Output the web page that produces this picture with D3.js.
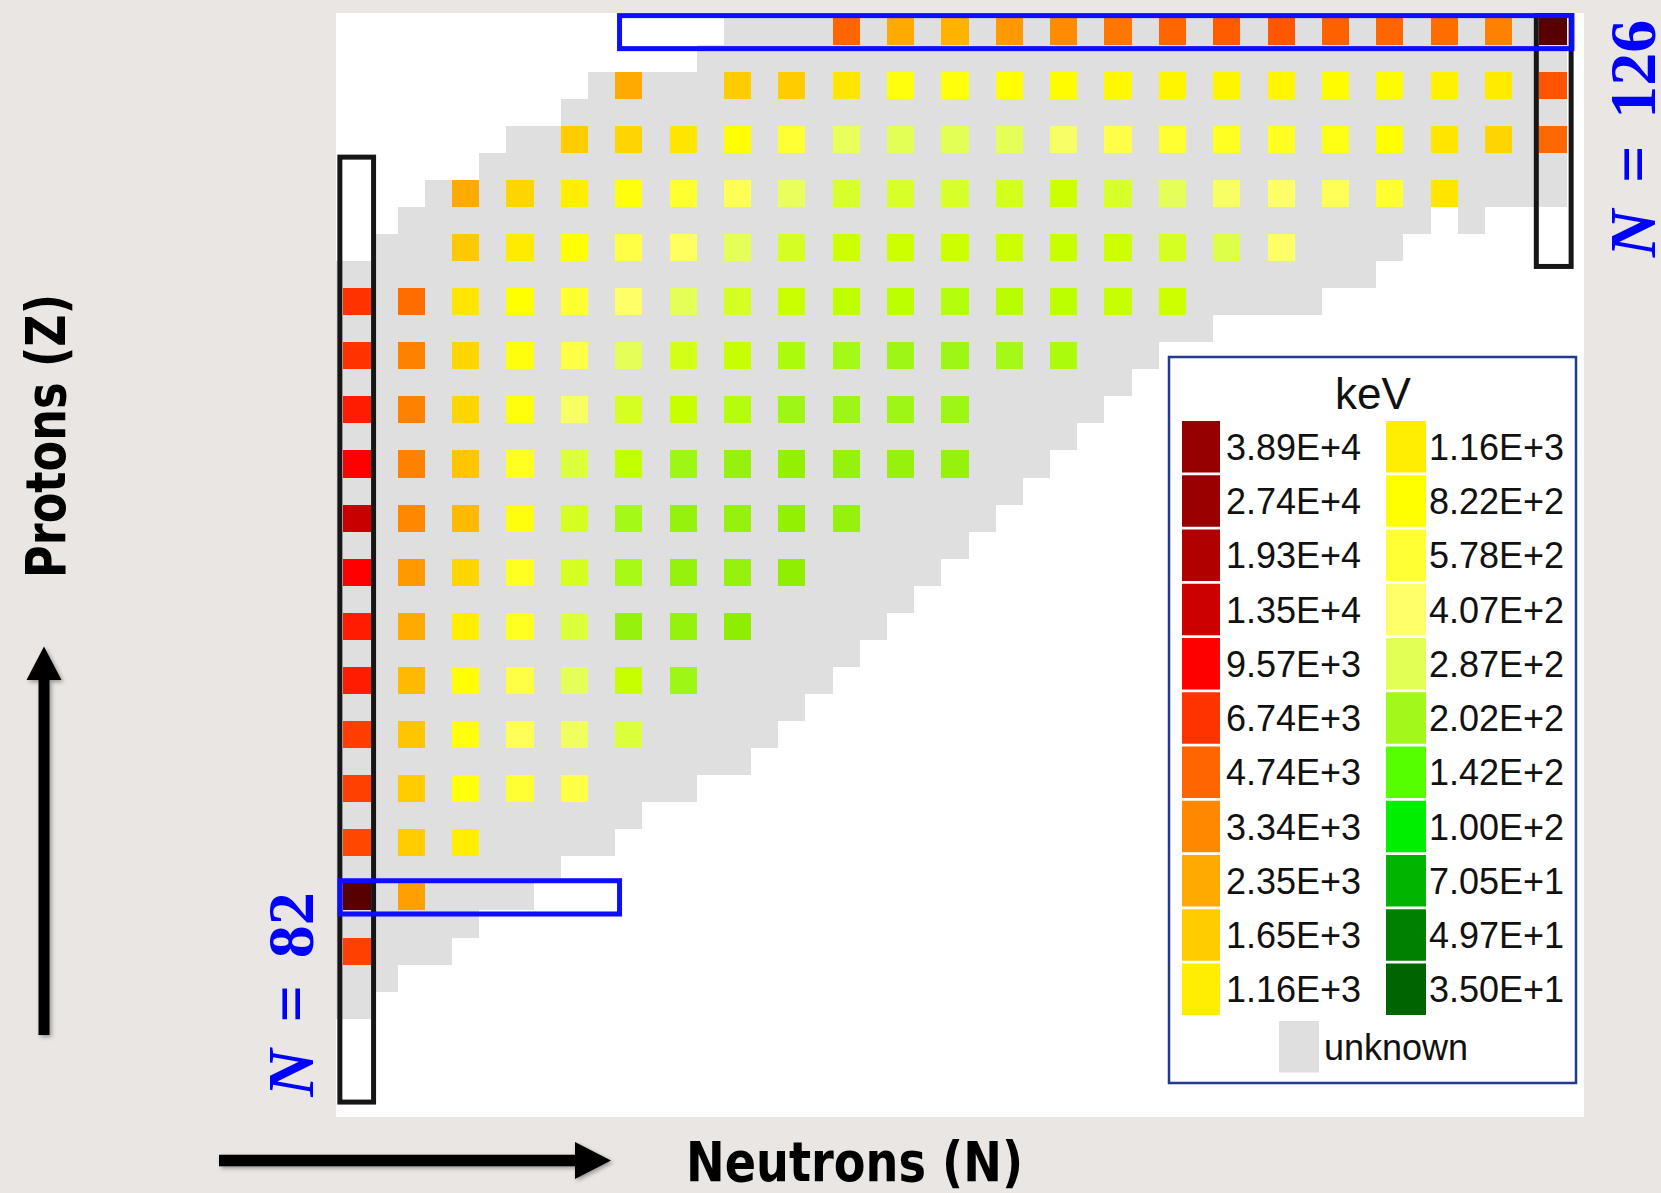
<!DOCTYPE html>
<html>
<head>
<meta charset="utf-8">
<script src="https://cdn.jsdelivr.net/npm/d3@7"></script>
<style>
  html, body { margin: 0; padding: 0; background: #e9e6e3; }
  svg { display: block; }
</style>
</head>
<body>
<svg id="chart" width="1661" height="1193"></svg>
<script>
// even-even columns / rows of the chart
const evenN = [82, 84, 86, 88, 90, 92, 94, 96, 98, 100, 102, 104, 106, 108, 110, 112, 114, 116, 118, 120, 122, 124, 126];
const evenZ = [82, 80, 78, 76, 74, 72, 70, 68, 66, 64, 62, 60, 58, 56, 54, 52, 50, 48];

// keV per even-even nucleus, one row per evenZ, starting at N = 82 (null = no value)
const energyKeV = [
  [null, null, null, null, null, null, null, null, null, 4740, 2350, 2150, 2800, 3200, 4000, 4740, 5100, 5300, 4950, 4740, 4450, 3600, 70000],
  [null, null, null, null, null, 2350, null, 1650, 1650, 1260, 730, 730, 822, 900, 950, 1000, 1000, 980, 900, 900, 1100, 1200, 5400],
  [null, null, null, null, 1650, 1500, 1260, 822, 578, 320, 290, 290, 300, 370, 500, 578, 640, 640, 720, 822, 1260, 1500, 4700],
  [null, null, 2350, 1500, 1160, 730, 578, 465, 320, 268, 268, 268, 262, 250, 268, 300, 370, 415, 460, 578, 1260],
  [null, null, 1700, 1200, 800, 520, 430, 300, 265, 250, 250, 250, 250, 243, 250, 265, 280, 415],
  [6740, 4400, 1260, 822, 578, 415, 300, 265, 245, 230, 225, 218, 222, 225, 243, 250],
  [6900, 3600, 1500, 730, 520, 300, 260, 243, 210, 205, 195, 195, 205, 210],
  [8000, 3600, 1500, 730, 370, 265, 243, 218, 195, 195, 195, 195],
  [9500, 3600, 1750, 650, 275, 235, 195, 185, 180, 185, 185, 185],
  [14000, 3340, 2000, 730, 265, 205, 185, 185, 180, 185],
  [9500, 2800, 1500, 650, 265, 207, 185, 185, 178],
  [8000, 2350, 1160, 650, 275, 185, 185, 175],
  [8000, 2000, 822, 520, 300, 243, 195],
  [6300, 1750, 730, 465, 340, 275],
  [6100, 1650, 730, 578, 520],
  [5900, 1650, 1160],
  [70000, 2600],
  [6100]
];

// known nuclides (grey): lightest and heaviest N per Z
const knownZ    = [82, 81, 80, 79, 78, 77, 76, 75, 74, 73, 72, 71, 70, 69, 68, 67, 66, 65, 64, 63, 62, 61, 60, 59, 58, 57, 56, 55, 54, 53, 52, 51, 50, 49, 48, 47, 46];
const knownNmin = [96, 95, 91, 90, 88, 87, 85, 84, 83, 81, 81, 81, 81, 81, 81, 81, 81, 81, 81, 81, 81, 81, 81, 81, 81, 81, 81, 81, 81, 81, 81, 81, 81, 81, 81, 81, 81];
const knownNmax = [126, 126, 126, 126, 126, 126, 126, 121, 120, 119, 117, 113, 111, 110, 109, 108, 107, 106, 105, 104, 103, 102, 101, 100, 99, 98, 97, 96, 94, 92, 91, 89, 88, 86, 85, 83, 82];
const extraKnownN = [123];
const extraKnownZ = [75];

// legend
const legendLeft  = ["3.89E+4", "2.74E+4", "1.93E+4", "1.35E+4", "9.57E+3", "6.74E+3", "4.74E+3", "3.34E+3", "2.35E+3", "1.65E+3", "1.16E+3"];
const legendRight = ["1.16E+3", "8.22E+2", "5.78E+2", "4.07E+2", "2.87E+2", "2.02E+2", "1.42E+2", "1.00E+2", "7.05E+1", "4.97E+1", "3.50E+1"];

// colour ramp (log keV)
const rampValues = [35.0, 49.7, 70.5, 100, 142, 175, 202, 225, 250, 287, 407, 578, 822, 1160, 1650, 2350, 3340, 4740, 6740, 9570, 13500, 19300, 27400, 38900, 80000];
const rampColors = ["#006400", "#008000", "#00b400", "#00ee00", "#55ff00", "#8eee00", "#a2f81a", "#bbff00", "#ccff00", "#e2ff55",
                    "#ffff6a", "#ffff33", "#ffff00", "#ffee00", "#ffcc00", "#ffaa00", "#ff8800", "#ff6600", "#ff3300", "#ff0000",
                    "#cc0000", "#b00000", "#990000", "#960000", "#4a0000"];

// magic-number frames: [N from, N to, Z from, Z to]
const magicFrames = [
  { n0: 81.37, n1: 82.61, z0: 42.42, z1: 77.34, color: "#161616" },
  { n0: 125.39, n1: 126.67, z0: 73.3, z1: 82.6, color: "#161616" },
  { n0: 81.38, n1: 91.66, z0: 49.37, z1: 50.6, color: "#0a0aff" },
  { n0: 91.66, n1: 126.7, z0: 81.35, z1: 82.57, color: "#0a0aff" }
];

const UNKNOWN = "#dfdfdf";
const CELL_X = 27.18;
const CELL_Y = 27.06;

const svg = d3.select("#chart");

const x = d3.scaleLinear().domain([81.5, 126.5]).range([343.4, 343.4 + 45 * CELL_X]);
const y = d3.scaleLinear().domain([82.5, 41.5]).range([17.5, 17.5 + 41 * CELL_Y]);
const color = d3.scaleLog().domain(rampValues).range(rampColors).clamp(true);

const defs = svg.append("defs");
defs.append("clipPath").attr("id", "panel-clip")
  .append("rect").attr("x", 336).attr("y", 13).attr("width", 1248).attr("height", 1104);
defs.append("filter").attr("id", "soft")
  .append("feGaussianBlur").attr("stdDeviation", 0.6);
const shadow = defs.append("filter").attr("id", "shadow")
  .attr("x", "-30%").attr("y", "-30%").attr("width", "160%").attr("height", "160%");
shadow.append("feDropShadow").attr("dx", 2).attr("dy", 2).attr("stdDeviation", 2)
  .attr("flood-color", "#000").attr("flood-opacity", 0.35);

// white panel
svg.append("rect")
  .attr("x", 336).attr("y", 13).attr("width", 1248).attr("height", 1104)
  .attr("fill", "#fff");

const plot = svg.append("g").attr("clip-path", "url(#panel-clip)");
const cells = plot.append("g").attr("filter", "url(#soft)");

// grey known nuclides
const knownRows = knownZ.map((z, i) => ({ z, n0: knownNmin[i], n1: knownNmax[i] }))
  .concat(extraKnownZ.map((z, i) => ({ z, n0: extraKnownN[i], n1: extraKnownN[i] })));

cells.selectAll("rect.known")
  .data(knownRows)
  .join("rect")
  .attr("class", "known")
  .attr("x", d => x(d.n0 - 0.5))
  .attr("width", d => x(d.n1 + 0.5) - x(d.n0 - 0.5))
  .attr("y", d => y(d.z + 0.5))
  .attr("height", d => y(d.z - 0.5) - y(d.z + 0.5))
  .attr("fill", UNKNOWN)
  .attr("shape-rendering", "crispEdges");

// coloured even-even nuclei
const squares = [];
energyKeV.forEach((row, i) => {
  row.forEach((v, j) => {
    if (v != null) squares.push({ z: evenZ[i], n: evenN[j], v });
  });
});

cells.selectAll("rect.ee")
  .data(squares)
  .join("rect")
  .attr("class", "ee")
  .attr("x", d => x(d.n - 0.5))
  .attr("width", CELL_X)
  .attr("y", d => y(d.z + 0.5))
  .attr("height", CELL_Y)
  .attr("fill", d => color(d.v))
  .attr("shape-rendering", "crispEdges");

// magic number frames
plot.append("g").attr("filter", "url(#soft)")
  .selectAll("rect")
  .data(magicFrames)
  .join("rect")
  .attr("x", d => x(d.n0))
  .attr("width", d => x(d.n1) - x(d.n0))
  .attr("y", d => y(d.z1))
  .attr("height", d => y(d.z0) - y(d.z1))
  .attr("fill", "none")
  .attr("stroke", d => d.color)
  .attr("stroke-width", 5);

// legend
const legend = svg.append("g").attr("font-family", "'Liberation Sans', Arial, sans-serif");
legend.append("rect")
  .attr("x", 1169).attr("y", 357).attr("width", 407).attr("height", 726)
  .attr("fill", "#fff").attr("stroke", "#1f3a8e").attr("stroke-width", 2.5);

legend.append("text")
  .attr("x", 1373).attr("y", 409)
  .attr("text-anchor", "middle")
  .attr("font-size", 44)
  .attr("fill", "#111")
  .text("keV");

const rowTop = i => 421 + i * 54.25;
const SW_H = 51.5;

const legendCols = [
  { labels: legendLeft, sx: 1182, sw: 38, tx: 1226 },
  { labels: legendRight, sx: 1386, sw: 40, tx: 1429 }
];

legendCols.forEach(col => {
  const g = legend.append("g");
  g.selectAll("rect")
    .data(col.labels)
    .join("rect")
    .attr("x", col.sx)
    .attr("y", (d, i) => rowTop(i))
    .attr("width", col.sw)
    .attr("height", SW_H)
    .attr("fill", d => color(+d));
  g.selectAll("text")
    .data(col.labels)
    .join("text")
    .attr("x", col.tx)
    .attr("y", (d, i) => rowTop(i) + SW_H / 2 + 13)
    .attr("font-size", 36)
    .attr("fill", "#111")
    .text(d => d);
});

legend.append("rect")
  .attr("x", 1279).attr("y", 1021).attr("width", 40).attr("height", SW_H)
  .attr("fill", UNKNOWN);
legend.append("text")
  .attr("x", 1324).attr("y", 1021 + SW_H / 2 + 13)
  .attr("font-size", 36)
  .attr("fill", "#111")
  .text("unknown");

// axis arrows
const arrows = svg.append("g").attr("fill", "#000").attr("filter", "url(#shadow)");
arrows.append("path")
  .attr("d", "M38.5,1035 L38.5,680 L26.5,680 L44,646.5 L61.5,680 L49.5,680 L49.5,1035 Z");
arrows.append("path")
  .attr("d", "M219,1154.8 L575,1154.8 L575,1142 L611,1160.5 L575,1179 L575,1166.2 L219,1166.2 Z");

// axis titles
const titleFont = "'Liberation Sans Narrow', 'DejaVu Sans Condensed', 'Liberation Sans', sans-serif";
svg.append("text")
  .attr("transform", "translate(65,436) rotate(-90)")
  .attr("text-anchor", "middle")
  .attr("font-family", titleFont)
  .attr("font-weight", "bold")
  .attr("font-size", 56)
  .attr("textLength", 284)
  .attr("lengthAdjust", "spacingAndGlyphs")
  .attr("fill", "#000")
  .text("Protons (Z)");

svg.append("text")
  .attr("x", 686).attr("y", 1181)
  .attr("font-family", titleFont)
  .attr("font-weight", "bold")
  .attr("font-size", 56)
  .attr("textLength", 337)
  .attr("lengthAdjust", "spacingAndGlyphs")
  .attr("fill", "#000")
  .text("Neutrons (N)");

// magic number labels
function magicLabel(tx, ty, num) {
  const t = svg.append("text")
    .attr("transform", `translate(${tx},${ty}) rotate(-90)`)
    .attr("text-anchor", "middle")
    .attr("fill", "#0000ff")
    .attr("font-family", "'Liberation Serif', 'DejaVu Serif', serif")
    .attr("font-weight", "bold")
    .attr("font-size", 66)
    .attr("word-spacing", 10)
    .style("white-space", "pre");
  t.append("tspan").attr("font-style", "italic").text("N");
  t.append("tspan").text(" = " + num);
}
magicLabel(313, 994.5, "82");
magicLabel(1655, 138.5, "126");
</script>
</body>
</html>
